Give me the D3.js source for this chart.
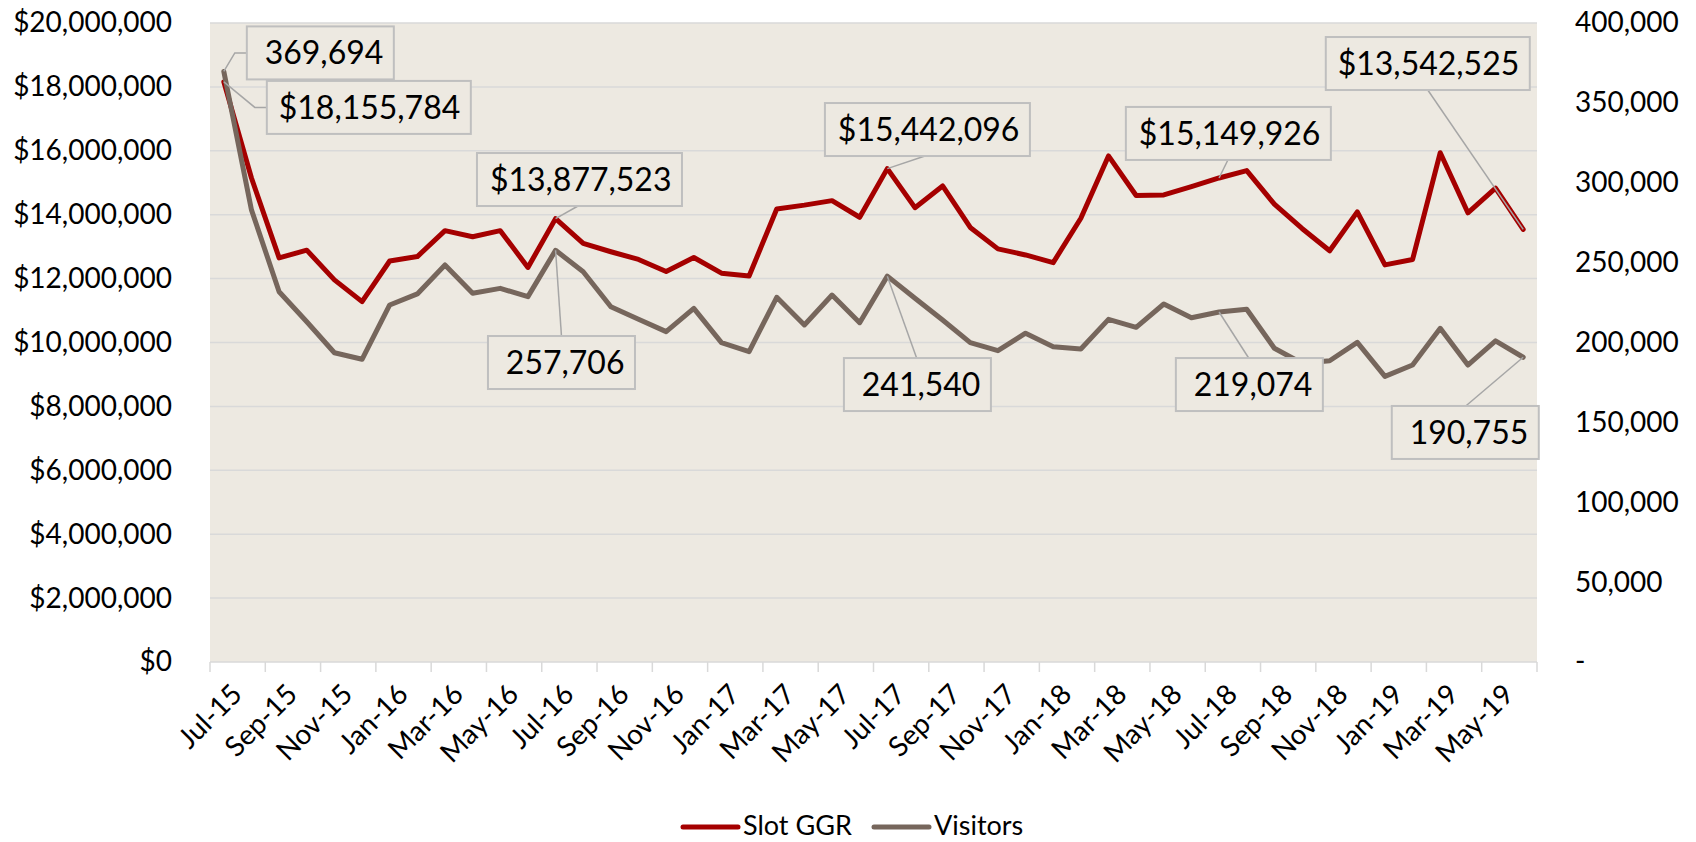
<!DOCTYPE html>
<html><head><meta charset="utf-8">
<script src="https://cdn.jsdelivr.net/npm/d3@7"></script>
<style>
body{margin:0;background:#fff}
text{font-family:Lato,"Carlito","Open Sans",sans-serif}
</style>
</head><body>
<svg id="c" width="1696" height="842"></svg>
<script>
const months = ["Jul-15","Aug-15","Sep-15","Oct-15","Nov-15","Dec-15",
  "Jan-16","Feb-16","Mar-16","Apr-16","May-16","Jun-16","Jul-16","Aug-16","Sep-16","Oct-16","Nov-16","Dec-16",
  "Jan-17","Feb-17","Mar-17","Apr-17","May-17","Jun-17","Jul-17","Aug-17","Sep-17","Oct-17","Nov-17","Dec-17",
  "Jan-18","Feb-18","Mar-18","Apr-18","May-18","Jun-18","Jul-18","Aug-18","Sep-18","Oct-18","Nov-18","Dec-18",
  "Jan-19","Feb-19","Mar-19","Apr-19","May-19","Jun-19"];

const slotGGR = [18155784,15150000,12650000,12890000,11960000,11280000,
  12550000,12690000,13500000,13310000,13500000,12350000,13877523,13100000,12840000,12600000,12220000,12660000,
  12170000,12080000,14180000,14300000,14440000,13920000,15442096,14220000,14900000,13600000,12930000,12740000,
  12500000,13890000,15840000,14600000,14620000,14880000,15149926,15380000,14330000,13570000,12870000,14090000,
  12430000,12600000,15940000,14060000,14830000,13542525];

const visitors = [369694,283000,231800,213000,193600,189500,
  223500,230400,248500,230800,233900,228700,257706,244300,222400,214500,206800,221400,
  199900,194300,228300,211000,229700,212400,241540,227700,214100,199900,194900,205800,
  197400,195900,214500,209500,224100,215500,219074,220800,196400,187000,188600,200100,
  178800,185900,208900,185900,201000,190755];

const leftTicks = [0,2000000,4000000,6000000,8000000,10000000,12000000,14000000,16000000,18000000,20000000];
const rightTicks = [0,50000,100000,150000,200000,250000,300000,350000,400000];
const xTickLabels = ["Jul-15","Sep-15","Nov-15","Jan-16","Mar-16","May-16","Jul-16","Sep-16","Nov-16",
  "Jan-17","Mar-17","May-17","Jul-17","Sep-17","Nov-17","Jan-18","Mar-18","May-18","Jul-18","Sep-18",
  "Nov-18","Jan-19","Mar-19","May-19"];
const seriesNames = ["Slot GGR","Visitors"];

// Data label placement (layout only): which point, box offset from the point, leader anchor on box
const labelLayout = [
  {s:1, i:0,  dx:23,   dy:-45,  w:147, elbow:"left"},
  {s:0, i:0,  dx:43,   dy:-1,   w:204, elbow:"left"},
  {s:0, i:12, dx:-78.6,dy:-65.6,w:205, ax:101, ay:"bottom"},
  {s:1, i:12, dx:-67.6,dy:85.7, w:147, ax:73.5,ay:"top"},
  {s:0, i:24, dx:-62.4,dy:-65.6,w:205, ax:100, ay:"bottom"},
  {s:1, i:24, dx:-43.4,dy:81.9, w:147, ax:72.7,ay:"top"},
  {s:0, i:36, dx:-93.2,dy:-71,  w:205, ax:102, ay:"bottom"},
  {s:1, i:36, dx:-43.2,dy:46,   w:147, ax:72.8,ay:"top"},
  {s:0, i:47, dx:-197.4,dy:-192.3,w:204,ax:102,ay:"bottom"},
  {s:1, i:47, dx:-131.4,dy:48.7, w:147, ax:74, ay:"top"}
];

const colors = ["#A50000","#76665C"];
const M = {l:210, r:1537, t:23, b:662};
const svg = d3.select("#c");

const x = d3.scaleBand().domain(months).range([M.l, M.r]).padding(0);
const cx = d => x(d) + x.bandwidth()/2;
const yL = d3.scaleLinear().domain([0, 20000000]).range([M.b, M.t]);
const yR = d3.scaleLinear().domain([0, 400000]).range([M.b, M.t]);

// plot background
svg.append("rect").attr("x",M.l).attr("y",M.t).attr("width",M.r-M.l).attr("height",M.b-M.t)
  .attr("fill","#EDE9E1");

// gridlines
svg.append("g").selectAll("line").data(leftTicks.filter(v=>v>0)).join("line")
  .attr("x1",M.l).attr("x2",M.r).attr("y1",d=>yL(d)).attr("y2",d=>yL(d))
  .attr("stroke","#D9D9D9").attr("stroke-width",1.5);

// x axis line and ticks at category boundaries (every 2 months)
svg.append("line").attr("x1",M.l).attr("x2",M.r).attr("y1",M.b).attr("y2",M.b)
  .attr("stroke","#D9D9D9").attr("stroke-width",1.5);
const tickPos = months.filter((m,i)=>i%2===0).map(m=>x(m)).concat([x.range()[1]]);
svg.append("g").selectAll("line").data(tickPos).join("line")
  .attr("x1",d=>d).attr("x2",d=>d).attr("y1",M.b).attr("y2",M.b+10)
  .attr("stroke","#D9D9D9").attr("stroke-width",1.5);

// x labels
svg.append("g").selectAll("text").data(xTickLabels).join("text")
  .attr("transform",d=>`translate(${cx(d)+13},${M.b+27}) rotate(-45)`)
  .attr("text-anchor","end").attr("dy","0.35em")
  .attr("font-size",28).attr("fill","#000").text(d=>d);

// left axis
const gL = svg.append("g").attr("transform",`translate(${M.l},0)`)
  .call(d3.axisLeft(yL).tickValues(leftTicks).tickSize(0).tickPadding(38).tickFormat(d3.format("$,")));
gL.select(".domain").remove();
gL.selectAll("text").attr("font-size",28).attr("fill","#000").style("font-family","Lato");

// right axis
const gR = svg.append("g").attr("transform",`translate(${M.r},0)`)
  .call(d3.axisRight(yR).tickValues(rightTicks).tickSize(0).tickPadding(38)
    .tickFormat(d => d===0 ? "-" : d3.format(",")(d)));
gR.select(".domain").remove();
gR.selectAll("text").attr("font-size",28).attr("fill","#000").style("font-family","Lato");

// lines
const lineL = d3.line().x((d,i)=>cx(months[i])).y(d=>yL(d));
const lineR = d3.line().x((d,i)=>cx(months[i])).y(d=>yR(d));
svg.append("path").datum(slotGGR).attr("d",lineL).attr("fill","none")
  .attr("stroke",colors[0]).attr("stroke-width",5).attr("stroke-linejoin","round").attr("stroke-linecap","round");
svg.append("path").datum(visitors).attr("d",lineR).attr("fill","none")
  .attr("stroke",colors[1]).attr("stroke-width",5).attr("stroke-linejoin","round").attr("stroke-linecap","round");

// data labels
const fmt = [d3.format("$,"), d3.format(",")];
const series = [slotGGR, visitors];
const scales = [yL, yR];
const gLab = svg.append("g");
labelLayout.forEach(L => {
  const px = cx(months[L.i]);
  const py = scales[L.s](series[L.s][L.i]);
  const bx = px + L.dx, by = py + L.dy, bh = 53;
  let pts;
  if (L.elbow === "left") {
    pts = [[bx, by+bh/2],[bx-12, by+bh/2],[px, py]];
  } else {
    const ay = L.ay === "bottom" ? by+bh : by;
    pts = [[bx+L.ax, ay],[px, py]];
  }
  gLab.append("path").attr("d", d3.line()(pts)).attr("fill","none")
    .attr("stroke","#A6A6A6").attr("stroke-width",1.5);
  gLab.append("rect").attr("x",bx).attr("y",by).attr("width",L.w).attr("height",bh)
    .attr("fill","#EDE9E1").attr("stroke","#BFBFBF").attr("stroke-width",2);
  gLab.append("text").attr("x",bx+L.w-10.5).attr("y",by+bh/2).attr("dy","0.36em")
    .attr("text-anchor","end").attr("font-size",32).attr("fill","#000")
    .text(fmt[L.s](series[L.s][L.i]));
});

// legend
const legX = [683, 874];
const gLeg = svg.append("g");
seriesNames.forEach((n,k)=>{
  gLeg.append("line").attr("x1",legX[k]).attr("x2",legX[k]+55).attr("y1",827).attr("y2",827)
    .attr("stroke",colors[k]).attr("stroke-width",5).attr("stroke-linecap","round");
  gLeg.append("text").attr("x",legX[k]+60).attr("y",835)
    .attr("font-size",27).attr("fill","#000").text(n);
});
</script>
</body></html>
